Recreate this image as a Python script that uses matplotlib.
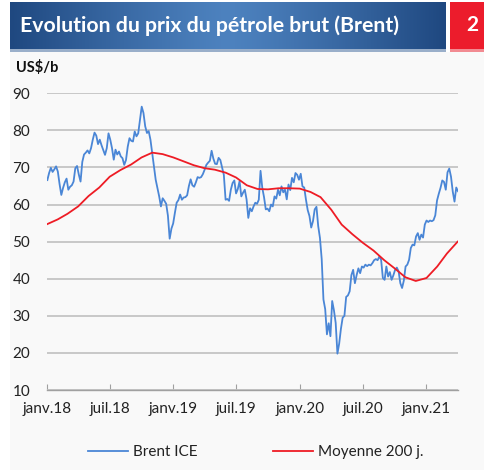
import numpy as np
import pandas as pd
import matplotlib
matplotlib.use("Agg")
import matplotlib.pyplot as plt
from matplotlib.patches import Rectangle

plt.rcParams['font.family'] = ['Lato', 'DejaVu Sans']

# Brent ICE, ~6 readings per month, Jan 2018 -> early Apr 2021 (US$/b)
brent = [
    66.6, 68.5, 69.9, 68.8, 69.5, 70.3,   # 2018
    68.9, 65.5, 62.6, 64.5, 66.0, 67.0,
    64.0, 64.8, 65.2, 66.2, 69.8, 70.4,
    68.1, 66.2, 71.5, 73.5, 74.0, 74.6,
    73.8, 75.2, 77.5, 79.4, 78.6, 76.3,
    77.5, 76.0, 74.7, 73.4, 75.2, 79.2,
    77.5, 75.2, 72.1, 74.8, 73.5, 74.3,
    73.0, 72.5, 70.7, 72.0, 75.6, 77.9,
    77.2, 77.0, 79.7, 78.4, 79.2, 82.8,
    86.4, 84.7, 81.1, 79.3, 79.8, 77.5,
    73.9, 70.3, 66.7, 64.5, 62.2, 59.5,
    61.7, 61.0, 60.2, 57.0, 50.8, 53.5,
    54.9, 57.8, 60.5, 61.2, 62.7, 61.3,   # 2019
    61.9, 62.0, 62.5, 65.0, 66.8, 65.2,
    64.8, 66.0, 67.4, 67.2, 67.4, 68.2,
    69.4, 70.7, 71.3, 71.8, 74.5, 72.4,
    71.0, 70.9, 72.6, 72.0, 70.0, 68.0,
    61.3, 61.5, 61.0, 64.0, 65.8, 66.5,
    63.0, 64.2, 66.3, 62.2, 63.2, 64.0,
    61.4, 56.4, 59.0, 58.2, 59.5, 60.5,
    60.2, 61.3, 69.1, 64.5, 62.0, 58.7,
    58.9, 58.2, 60.0, 59.5, 62.2, 61.6,
    64.0, 62.5, 64.9, 63.3, 64.0, 61.4,
    65.4, 63.9, 67.2, 66.0, 68.5, 68.0,
    66.7, 68.3, 64.9, 64.6, 61.3, 58.5,   # 2020
    56.9, 53.8, 55.5, 58.7, 59.4, 54.2,
    51.0, 45.3, 34.4, 31.8, 25.0, 28.0,
    24.5, 34.0, 31.5, 28.1, 19.8, 22.5,
    26.5, 29.5, 30.0, 35.1, 35.5, 36.6,
    41.0, 42.4, 38.8, 41.0, 42.8, 41.5,
    43.3, 43.0, 43.8, 43.4, 43.8, 43.6,
    44.2, 45.0, 45.3, 45.0, 46.0, 45.1,
    40.2, 39.7, 43.3, 40.6, 41.8, 39.7,
    40.9, 42.4, 43.0, 42.0, 38.8, 37.5,
    39.5, 43.3, 43.8, 45.1, 48.3, 49.2,
    49.0, 51.4, 52.3, 50.5, 51.9, 51.1,
    54.6, 55.7, 55.3, 55.7, 55.5, 55.8,   # 2021
    57.1, 61.1, 62.9, 64.5, 66.5, 66.1,
    64.0, 68.7, 69.7, 67.5, 63.5, 60.8,
    64.6, 63.6,
]
brent_dates = pd.date_range("2018-01-02", "2021-04-02", periods=len(brent))

# 200-day moving average, first of each month
ma200 = [
    54.7, 56.0, 57.5, 59.5, 62.3, 64.6, 67.5, 69.3, 70.8, 72.7, 74.0, 73.6,
    72.7, 71.6, 70.6, 69.8, 69.4, 68.6, 67.3, 65.2, 64.2, 64.1, 64.4, 64.4,
    64.3, 63.4, 62.0, 58.6, 54.6, 52.0, 49.7, 47.6, 45.0, 42.8, 40.4, 39.4,
    40.2, 43.3, 46.8, 50.0,
]
ma_dates = pd.date_range("2018-01-01", periods=len(ma200), freq="MS")

tick_dates = pd.date_range("2018-01-01", "2021-01-01", freq="6MS")
tick_labels = ["janv.18", "juil.18", "janv.19", "juil.19", "janv.20", "juil.20", "janv.21"]

title = "Evolution du prix du pétrole brut (Brent)"

W, H = 485, 470
fig = plt.figure(figsize=(W / 100, H / 100), dpi=100)
fig.patch.set_facecolor("white")

def fx(px):
    return px / W

def fy(py):
    return 1 - py / H

# light grey panel
fig.add_artist(Rectangle((fx(10), 0), fx(475), fy(52), transform=fig.transFigure,
                         facecolor="#f9f9f9", edgecolor="none", zorder=0))

# title bar with horizontal gradient
bar = fig.add_axes([fx(10), fy(49), fx(436), fy(2) - fy(49)])
grad = np.linspace(-1, 1, 256)
grad = 1 - np.abs(grad) ** 1.2
c_dark = np.array([0x1f, 0x48, 0x80]) / 255
c_light = np.array([0x4d, 0x82, 0xbf]) / 255
img = c_dark[None, None, :] + (c_light - c_dark)[None, None, :] * grad[None, :, None]
bar.imshow(img, aspect="auto", extent=[0, 1, 0, 1])
bar.set_axis_off()
bar.text(0.022, 0.5, title, color="white", fontsize=15.3, fontweight="bold",
         va="center", ha="left", transform=bar.transAxes)
fig.add_artist(Rectangle((fx(10), fy(52)), fx(436), fy(49) - fy(52), transform=fig.transFigure,
                         facecolor="#9aafca", edgecolor="none"))

# red number box
fig.add_artist(Rectangle((fx(450), fy(49)), fx(35), fy(2) - fy(49), transform=fig.transFigure,
                         facecolor="#ec1c2c", edgecolor="none"))
fig.add_artist(Rectangle((fx(450), fy(52)), fx(35), fy(49) - fy(52), transform=fig.transFigure,
                         facecolor="#f28b92", edgecolor="none"))
fig.text(fx(472), fy(25), "2", color="white", fontsize=15, fontweight="bold",
         ha="center", va="center")

fig.text(fx(16), fy(67), "US$/b", fontsize=10.5, fontweight="bold", ha="left", va="center",
         color="#111111")

ax = fig.add_axes([fx(47), fy(390), fx(458) - fx(47), fy(93.3) - fy(390)])
ax.set_facecolor("none")
ax.plot(brent_dates, brent, color="#4a86d6", lw=1.3, label="Brent ICE", zorder=3)
ax.plot(ma_dates, ma200, color="#ee1c25", lw=1.3, label="Moyenne 200 j.", zorder=4)

ax.set_ylim(10, 90)
ax.set_yticks(range(10, 91, 10))
ax.set_xlim(pd.Timestamp("2018-01-01"), pd.Timestamp("2021-04-02"))
ax.set_xticks(tick_dates)
ax.set_xticklabels(tick_labels)
ax.grid(axis="y", color="#c4c4c4", lw=1.3)
ax.set_axisbelow(True)
for s in ["top", "right", "left"]:
    ax.spines[s].set_visible(False)
ax.spines["bottom"].set_color("#a0a0a0")
ax.spines["bottom"].set_linewidth(1.0)
ax.tick_params(axis="y", length=0, pad=12, labelsize=11, labelcolor="#222222")
ax.tick_params(axis="x", direction="in", length=4, color="#a0a0a0", pad=9,
               labelsize=11, labelcolor="#222222")

leg = ax.legend(loc="upper center", bbox_to_anchor=(0.508, -0.14), ncol=2, frameon=False,
                fontsize=11, handlelength=2.6, columnspacing=5.0, handletextpad=0.3)
for t in leg.get_texts():
    t.set_color("#222222")

fig.savefig("out.png", dpi=100, facecolor="white")
